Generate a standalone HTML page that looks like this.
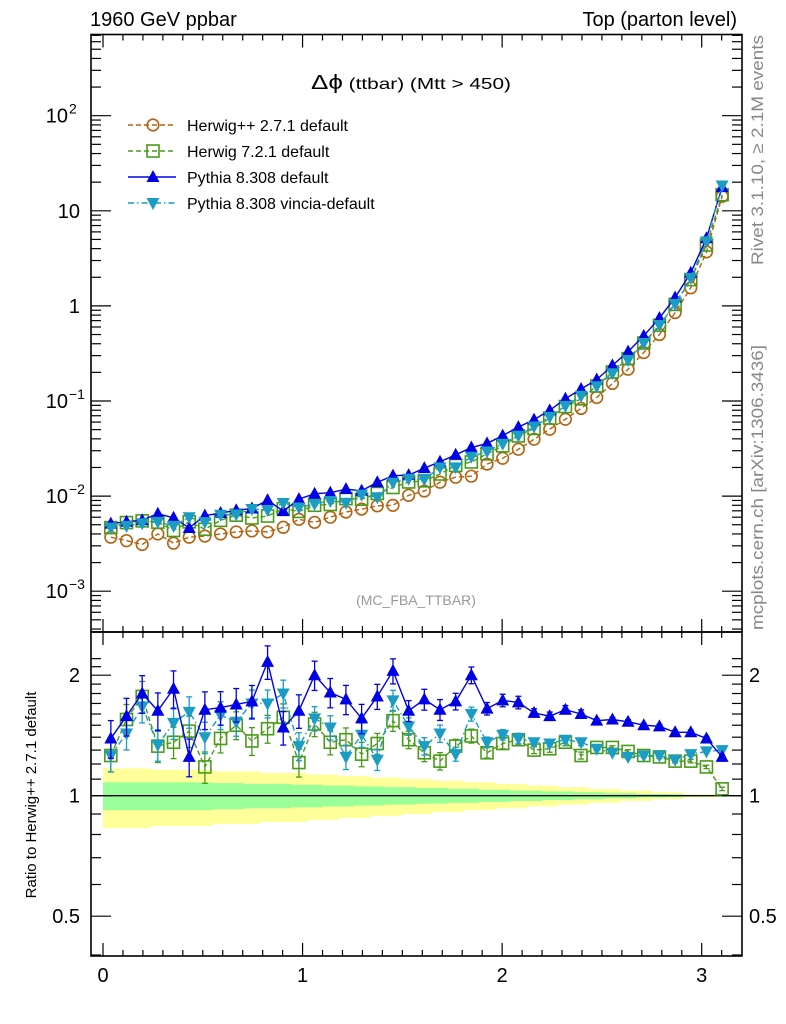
<!DOCTYPE html>
<html><head><meta charset="utf-8"><style>
html,body{margin:0;padding:0;background:#fff;}
svg text{font-family:"Liberation Sans",sans-serif;}
body{position:relative;width:786px;height:1024px;overflow:hidden;}#chart{position:absolute;left:0;top:0;}
</style></head><body>
<svg id="chart" width="786" height="1024" viewBox="0 0 786 1024" xmlns="http://www.w3.org/2000/svg">
<g id="layer"></g>
</svg>
<script>
const herwigpp = [0.0037,0.0034,0.0031,0.0040,0.0032,0.0037,0.0038,0.0040,0.0042,0.0043,0.0042,0.0047,0.0057,0.0053,0.0060,0.0068,0.0073,0.0079,0.0080,0.0102,0.0113,0.0140,0.0158,0.0162,0.0217,0.0250,0.0311,0.0396,0.0505,0.0643,0.0836,0.109,0.153,0.216,0.323,0.50,0.85,1.55,3.7,14.2];
const ratioHerwig7 = [1.26,1.55,1.77,1.33,1.36,1.45,1.18,1.39,1.50,1.37,1.47,1.57,1.21,1.51,1.36,1.38,1.27,1.35,1.54,1.38,1.28,1.22,1.33,1.41,1.28,1.35,1.38,1.30,1.31,1.36,1.26,1.32,1.32,1.29,1.26,1.25,1.22,1.22,1.18,1.04];
const ratioPythia = [1.39,1.58,1.80,1.63,1.85,1.25,1.64,1.66,1.69,1.72,2.16,1.48,1.63,2.00,1.81,1.74,1.56,1.77,2.05,1.63,1.74,1.64,1.72,2.00,1.65,1.73,1.71,1.61,1.58,1.64,1.60,1.54,1.55,1.53,1.50,1.49,1.44,1.44,1.39,1.25];
const ratioVincia = [1.26,1.43,1.67,1.34,1.52,1.62,1.40,1.59,1.53,1.70,1.70,1.80,1.33,1.56,1.48,1.25,1.42,1.23,1.73,1.49,1.33,1.43,1.27,1.60,1.36,1.42,1.39,1.36,1.35,1.38,1.36,1.31,1.28,1.25,1.26,1.26,1.23,1.27,1.29,1.30];
const relErr = [0.09,0.09,0.09,0.09,0.09,0.09,0.09,0.08,0.08,0.08,0.08,0.08,0.08,0.07,0.07,0.07,0.07,0.06,0.06,0.05,0.05,0.05,0.04,0.04,0.03,0.03,0.03,0.02,0.02,0.02,0.02,0.01,0.01,0.01,0.01,0.01,0.01,0.01,0.01,0.01];
const bandYellow = [0.17,0.17,0.17,0.16,0.16,0.16,0.16,0.15,0.15,0.15,0.14,0.14,0.14,0.13,0.13,0.12,0.12,0.11,0.11,0.10,0.10,0.09,0.09,0.08,0.08,0.07,0.07,0.06,0.06,0.05,0.05,0.04,0.04,0.03,0.03,0.02,0.02,0.01,0.01,0.005];
const bandGreen = [0.08,0.08,0.08,0.08,0.08,0.08,0.08,0.075,0.075,0.07,0.07,0.07,0.065,0.065,0.06,0.06,0.055,0.055,0.05,0.05,0.045,0.045,0.04,0.04,0.035,0.035,0.03,0.03,0.025,0.025,0.02,0.02,0.015,0.015,0.01,0.01,0.008,0.005,0.004,0.002];
const xTicks = [0,1,2,3];
const mainTicks = [{v:100,l:"10",e:"2"},{v:10,l:"10",e:""},{v:1,l:"1",e:""},{v:0.1,l:"10",e:"−1"},{v:0.01,l:"10",e:"−2"},{v:0.001,l:"10",e:"−3"}];
const ratioTicks = [2,1,0.5];

const NS="http://www.w3.org/2000/svg";
const L=document.getElementById('layer');
function mk(tag,attrs,parent){const e=document.createElementNS(NS,tag);for(const k in attrs)e.setAttribute(k,attrs[k]);(parent||L).appendChild(e);return e;}
const X0=91,X1=742,MT=34.5,MB=632,RB=956;
const sx=v=>103+v*199.57;
const sy=v=>115.7-(Math.log10(v)-2)*95.1;
const ry=v=>795.7-Math.log2(v)*120.5;
const N=herwigpp.length, bw=Math.PI/N;
const cx=i=>sx((i+0.5)*bw);
const COL={hpp:"#b5610f",h7:"#4a9a1a",py:"#0000e6",vi:"#1a9cc4"};

const defs=mk('defs',{});
const c1=mk('clipPath',{id:'cm'},defs);mk('rect',{x:X0,y:MT,width:X1-X0,height:MB-MT},c1);
const c2=mk('clipPath',{id:'cr'},defs);mk('rect',{x:X0,y:MB,width:X1-X0,height:RB-MB},c2);

const gB=mk('g',{'clip-path':'url(#cr)'});


for(let i=0;i<N;i++){
  const x0=sx(i*bw), x1=sx((i+1)*bw);
  const y=mk('rect',{x:x0,y:ry(1+bandYellow[i]),width:x1-x0+0.5,height:ry(1-bandYellow[i])-ry(1+bandYellow[i]),fill:"#ffff99"},gB);
  
  
  const g=mk('rect',{x:x0,y:ry(1+bandGreen[i]),width:x1-x0+0.5,height:ry(1-bandGreen[i])-ry(1+bandGreen[i]),fill:"#99ff99"},gB);
  
  
}
const ref=mk('line',{x1:X0,x2:X1,y1:ry(1),y2:ry(1),stroke:"#000","stroke-width":1.3});



function marker(kind,x,y,parent){
  let e;
  if(kind==='hpp')e=mk('circle',{cx:x,cy:y,r:5.8,fill:"none",stroke:COL.hpp,"stroke-width":1.6},parent);
  else if(kind==='h7')e=mk('rect',{x:x-6,y:y-6,width:12,height:12,fill:"none",stroke:COL.h7,"stroke-width":1.6},parent);
  else if(kind==='py')e=mk('polygon',{points:`${x},${y-7} ${x-6.5},${y+5} ${x+6.5},${y+5}`,fill:COL.py},parent);
  else e=mk('polygon',{points:`${x},${y+7} ${x-6.5},${y-5} ${x+6.5},${y-5}`,fill:COL.vi},parent);
  return e;
}
const dash={hpp:"5,3",h7:"5,3",py:"",vi:"6,3,1.5,3"};
function series(kind,vals,scale,clip,name,errs){
  const g=mk('g',{'clip-path':`url(#${clip})`});
  
  
  const pts=vals.map((v,i)=>`${cx(i)},${scale(v)}`).join(' ');
  mk('polyline',{points:pts,fill:"none",stroke:COL[kind],"stroke-width":1.4,"stroke-dasharray":dash[kind]},g);
  vals.forEach((v,i)=>{
    if(errs){
      const e=errs[i]*v*(kind==='py'?1.2:1);
      const x=cx(i),ya=scale(v+e),yb=scale(v-e);
      mk('line',{x1:x,x2:x,y1:ya,y2:yb,stroke:COL[kind],"stroke-width":1.3},g);
      mk('line',{x1:x-3,x2:x+3,y1:ya,y2:ya,stroke:COL[kind],"stroke-width":1.3},g);
      mk('line',{x1:x-3,x2:x+3,y1:yb,y2:yb,stroke:COL[kind],"stroke-width":1.3},g);
    }
    const m=marker(kind,cx(i),scale(v),g);
    
    
  });
}
series('hpp',herwigpp,sy,'cm','herwigpp-main');
series('h7',herwigpp.map((v,i)=>v*ratioHerwig7[i]),sy,'cm','herwig7-main');
series('py',herwigpp.map((v,i)=>v*ratioPythia[i]),sy,'cm','pythia-main');
series('vi',herwigpp.map((v,i)=>v*ratioVincia[i]),sy,'cm','vincia-main');
series('h7',ratioHerwig7,ry,'cr','herwig7-ratio',relErr);
series('vi',ratioVincia,ry,'cr','vincia-ratio',relErr);
series('py',ratioPythia,ry,'cr','pythia-ratio',relErr);

const f1=mk('rect',{x:X0,y:MT,width:X1-X0,height:MB-MT,fill:"none",stroke:"#000","stroke-width":1.6});


const f2=mk('rect',{x:X0,y:MB,width:X1-X0,height:RB-MB,fill:"none",stroke:"#000","stroke-width":1.6});



for(let k=0;k<=32;k++){
  const v=k/10, x=sx(v); if(x>X1-1)continue;
  const major=k%10===0, len=major?13:6;
  [[MT,1],[MB,-1],[MB,1],[RB,-1]].forEach(([y,d])=>mk('line',{x1:x,x2:x,y1:y,y2:y+d*len,stroke:"#000","stroke-width":1.2}));
}
xTicks.forEach(v=>{
  const t=mk('text',{x:sx(v),y:982,"font-size":20,"text-anchor":"middle"});t.textContent=v;
  
  
});
for(let d=-4;d<=2;d++){
  for(let m=1;m<10;m++){
    const v=m*Math.pow(10,d), y=sy(v); if(y<MT||y>MB)continue;
    const len=m===1?20:10;
    mk('line',{x1:X0,x2:X0+len,y1:y,y2:y,stroke:"#000","stroke-width":1.2});
    mk('line',{x1:X1,x2:X1-len,y1:y,y2:y,stroke:"#000","stroke-width":1.2});
  }
}
mainTicks.forEach(t=>{
  const y=sy(t.v)+7;
  const tx=mk('text',{x:t.e?68:80,y:y,"font-size":20,"text-anchor":"end"});tx.textContent=t.l;
  
  
  if(t.e){const s=mk('text',{x:69,y:y-9,"font-size":14});s.textContent=t.e;}
});
for(let v=0.4;v<=2.3;v+=0.1){
  const y=ry(v); if(y<MB||y>RB)continue;
  const major=Math.abs(v-1)<0.01||Math.abs(v-2)<0.01||Math.abs(v-0.5)<0.01;
  const len=major?20:10;
  mk('line',{x1:X0,x2:X0+len,y1:y,y2:y,stroke:"#000","stroke-width":1.2});
  mk('line',{x1:X1,x2:X1-len,y1:y,y2:y,stroke:"#000","stroke-width":1.2});
}
ratioTicks.forEach(v=>{
  const a=mk('text',{x:80,y:ry(v)+7,"font-size":20,"text-anchor":"end"});a.textContent=v;
  
  
  const b=mk('text',{x:749,y:ry(v)+7,"font-size":20});b.textContent=v;
  
  
});

const legend=[['hpp','Herwig++ 2.7.1 default',125],['h7','Herwig 7.2.1 default',151],['py','Pythia 8.308 default',177],['vi','Pythia 8.308 vincia-default',203]];
legend.forEach(([k,label,y])=>{
  const g=mk('g',{});
  
  
  mk('line',{x1:128,x2:176,y1:y,y2:y,stroke:COL[k],"stroke-width":1.4,"stroke-dasharray":dash[k]},g);
  marker(k,153,y,g);
  const t=mk('text',{x:187,y:y+6,"font-size":16},g);t.textContent=label;
});
</script>
<svg width="786" height="1024" style="position:absolute;left:0;top:0" xmlns="http://www.w3.org/2000/svg">
<text x="90" y="26" font-size="20" font-family="Liberation Sans, sans-serif">1960 GeV ppbar</text>
<text x="737" y="26" font-size="20" text-anchor="end" font-family="Liberation Sans, sans-serif">Top (parton level)</text>
<text x="311" y="89" font-size="16" textLength="200" lengthAdjust="spacingAndGlyphs" font-family="Liberation Sans, sans-serif"><tspan font-size="20">Δϕ</tspan> (ttbar) (Mtt &gt; 450)</text>
<text x="416" y="605" font-size="14" fill="#999" text-anchor="middle" font-family="Liberation Sans, sans-serif">(MC_FBA_TTBAR)</text>
<text transform="translate(763,265) rotate(-90)" font-size="17" fill="#888" textLength="230" lengthAdjust="spacingAndGlyphs" font-family="Liberation Sans, sans-serif">Rivet 3.1.10, ≥ 2.1M events</text>
<text transform="translate(763,630) rotate(-90)" font-size="17" fill="#888" textLength="285" lengthAdjust="spacingAndGlyphs" font-family="Liberation Sans, sans-serif">mcplots.cern.ch [arXiv:1306.3436]</text>
<text transform="translate(36,795) rotate(-90)" font-size="15" text-anchor="middle" font-family="Liberation Sans, sans-serif">Ratio to Herwig++ 2.7.1 default</text>
</svg>
</body></html>
